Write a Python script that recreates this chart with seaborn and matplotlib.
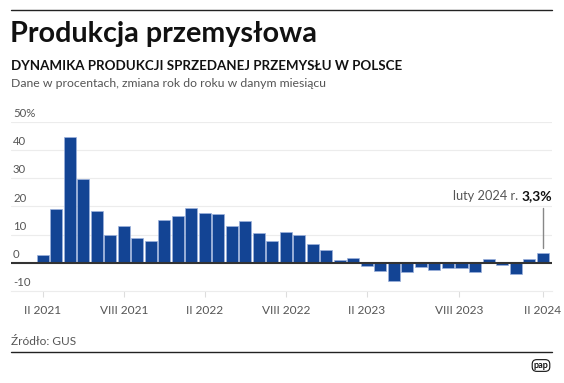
import pandas as pd
import matplotlib.pyplot as plt
import seaborn as sns
from matplotlib.lines import Line2D

# monthly y/y change of industrial production, from II 2021 to II 2024
values = [2.6, 18.9, 44.5, 29.8, 18.3, 9.7, 13.1, 8.8, 7.7, 15.1, 16.7, 19.3,
          17.5, 17.3, 12.9, 14.9, 10.4, 7.6, 10.8, 9.7, 6.7, 4.5, 0.9, 1.8,
          -1.0, -2.8, -6.4, -3.2, -1.4, -2.7, -1.9, -2.0, -3.1, 1.5, -0.7,
          -3.9, 1.5, 3.3]
tick_pos = [0, 6, 12, 18, 24, 30.8, 37]
tick_labels = ['II 2021', 'VIII 2021', 'II 2022', 'VIII 2022', 'II 2023',
               'VIII 2023', 'II 2024']
y_ticks = [-10, 0, 10, 20, 30, 40, 50]
y_labels = ['-10', '0', '10', '20', '30', '40', '50%']
last_label = 'luty 2024 r.'
last_value = '3,3%'

df = pd.DataFrame({'idx': range(len(values)), 'value': values})

sns.set_theme(style='white')
plt.rcParams['font.family'] = ['Lato', 'DejaVu Sans']

W, H = 564, 383
fig = plt.figure(figsize=(W / 100, H / 100), dpi=100)


def fx(x):
    return x / W


def fy(y):
    return 1 - y / H


ax = fig.add_axes([fx(11), fy(291), (552 - 11) / W, (291 - 121.7) / H])
sns.barplot(data=df, x='idx', y='value', color='#134494', saturation=1,
            width=0.89, edgecolor='#9db2dc', linewidth=0.5, ax=ax, zorder=2)
ax.set_xlim(-2.35, 37.7)
ax.set_ylim(-10, 50)

for v in y_ticks:
    if v != 0 and v != -10:
        ax.axhline(v, color='#ececec', lw=0.8, zorder=0)
ax.axhline(0, color='#333333', lw=1.5, zorder=3)

for v, lab in zip(y_ticks, y_labels):
    ax.text(-2.2, v + 1.0, lab, fontsize=8.2, color='#555555',
            ha='left', va='bottom')

for s in ax.spines.values():
    s.set_visible(False)
ax.spines['bottom'].set_visible(True)
ax.spines['bottom'].set_color('#ececec')
ax.spines['bottom'].set_linewidth(0.8)
ax.set_yticks([])
ax.set_xticks(tick_pos)
ax.set_xticklabels(tick_labels, fontsize=8.6, color='#555555')
ax.tick_params(axis='x', length=4, width=0.8, color='#dddddd', pad=6,
               bottom=True, direction='out')
ax.set_xlabel('')
ax.set_ylabel('')

# annotation for the last month
ax.plot([37, 37], [5.3, 19.4], color='#888888', lw=1, zorder=4)
t_bold = ax.text(37.7, 22.2, last_value, fontsize=10, fontweight='bold',
                 color='#111111', ha='right', va='baseline')
fig.canvas.draw()
bb = t_bold.get_window_extent().transformed(ax.transData.inverted())
ax.text(bb.x0 - 0.25, 22.2, last_label, fontsize=9.2, color='#555555',
        ha='right', va='baseline')

# header
fig.add_artist(Line2D([fx(11), fx(552)], [fy(10), fy(10)], color='#222222', lw=1))
fig.text(fx(10), fy(42), 'Produkcja przemysłowa', fontsize=20.7,
         fontweight='bold', color='#111111', ha='left', va='baseline')
fig.text(fx(11), fy(70.5), 'DYNAMIKA PRODUKCJI SPRZEDANEJ PRZEMYSŁU W POLSCE',
         fontsize=9.6, fontweight='bold', color='#111111', ha='left', va='baseline')
fig.text(fx(11), fy(87), 'Dane w procentach, zmiana rok do roku w danym miesiącu',
         fontsize=8.8, color='#555555', ha='left', va='baseline')

# footer
fig.text(fx(11), fy(345), 'Źródło: GUS', fontsize=8.6, color='#555555',
         ha='left', va='baseline')
fig.add_artist(Line2D([fx(11), fx(552)], [fy(352.3), fy(352.3)],
                      color='#222222', lw=1))
fig.text(fx(541), fy(365.5), 'pap', fontsize=6.5, fontweight='bold',
         color='#111111', ha='center', va='center',
         bbox=dict(boxstyle='round,pad=0.15,rounding_size=0.5',
                   fc='white', ec='#111111', lw=0.8))

fig.savefig('out.png', dpi=100)
